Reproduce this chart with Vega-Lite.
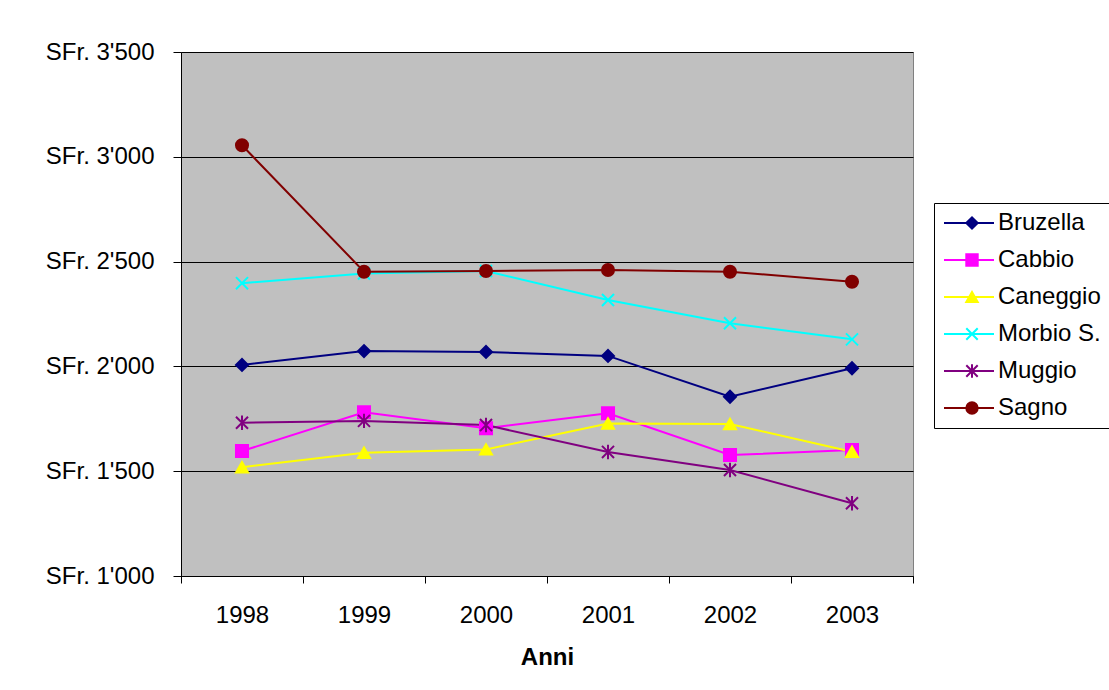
{
  "$schema": "https://vega.github.io/schema/vega-lite/v6.json",
  "width": 732,
  "height": 524,
  "autosize": {"type": "none"},
  "padding": {"left": 181, "top": 52, "right": 196, "bottom": 114},
  "background": "white",
  "config": {
    "font": "Liberation Sans",
    "view": {"fill": "#C0C0C0", "stroke": "#808080", "strokeWidth": 1}
  },
  "data": {
    "values": [
      {"Anno": "1998", "Comune": "Bruzella", "Valore": 2007},
      {"Anno": "1999", "Comune": "Bruzella", "Valore": 2073},
      {"Anno": "2000", "Comune": "Bruzella", "Valore": 2069},
      {"Anno": "2001", "Comune": "Bruzella", "Valore": 2050},
      {"Anno": "2002", "Comune": "Bruzella", "Valore": 1855},
      {"Anno": "2003", "Comune": "Bruzella", "Valore": 1991},
      {"Anno": "1998", "Comune": "Cabbio", "Valore": 1596},
      {"Anno": "1999", "Comune": "Cabbio", "Valore": 1781},
      {"Anno": "2000", "Comune": "Cabbio", "Valore": 1705},
      {"Anno": "2001", "Comune": "Cabbio", "Valore": 1776},
      {"Anno": "2002", "Comune": "Cabbio", "Valore": 1577},
      {"Anno": "2003", "Comune": "Cabbio", "Valore": 1601},
      {"Anno": "1998", "Comune": "Caneggio", "Valore": 1519},
      {"Anno": "1999", "Comune": "Caneggio", "Valore": 1588},
      {"Anno": "2000", "Comune": "Caneggio", "Valore": 1604},
      {"Anno": "2001", "Comune": "Caneggio", "Valore": 1728},
      {"Anno": "2002", "Comune": "Caneggio", "Valore": 1725},
      {"Anno": "2003", "Comune": "Caneggio", "Valore": 1593},
      {"Anno": "1998", "Comune": "Morbio S.", "Valore": 2397},
      {"Anno": "1999", "Comune": "Morbio S.", "Valore": 2443},
      {"Anno": "2000", "Comune": "Morbio S.", "Valore": 2455},
      {"Anno": "2001", "Comune": "Morbio S.", "Valore": 2317},
      {"Anno": "2002", "Comune": "Morbio S.", "Valore": 2206},
      {"Anno": "2003", "Comune": "Morbio S.", "Valore": 2129},
      {"Anno": "1998", "Comune": "Muggio", "Valore": 1731},
      {"Anno": "1999", "Comune": "Muggio", "Valore": 1740},
      {"Anno": "2000", "Comune": "Muggio", "Valore": 1720},
      {"Anno": "2001", "Comune": "Muggio", "Valore": 1592},
      {"Anno": "2002", "Comune": "Muggio", "Valore": 1506},
      {"Anno": "2003", "Comune": "Muggio", "Valore": 1347},
      {"Anno": "1998", "Comune": "Sagno", "Valore": 3055},
      {"Anno": "1999", "Comune": "Sagno", "Valore": 2452},
      {"Anno": "2000", "Comune": "Sagno", "Valore": 2455},
      {"Anno": "2001", "Comune": "Sagno", "Valore": 2460},
      {"Anno": "2002", "Comune": "Sagno", "Valore": 2452},
      {"Anno": "2003", "Comune": "Sagno", "Valore": 2404}
    ]
  },
  "encoding": {
    "x": {
      "field": "Anno",
      "type": "ordinal",
      "bandPosition": 0.5,
      "scale": {"type": "band", "paddingInner": 0, "paddingOuter": 0},
      "axis": {
        "title": "Anni",
        "labelAngle": 0,
        "tickBand": "extent",
        "tickSize": 7,
        "tickColor": "black",
        "domainColor": "black",
        "labelColor": "black",
        "labelFontSize": 24,
        "labelPadding": 20,
        "titleFontSize": 24,
        "titleFontWeight": "bold",
        "titleColor": "black",
        "titlePadding": 18,
        "grid": false
      }
    },
    "y": {
      "field": "Valore",
      "type": "quantitative",
      "scale": {"domain": [1000, 3500], "nice": false, "zero": false},
      "axis": {
        "title": null,
        "values": [1000, 1500, 2000, 2500, 3000, 3500],
        "labelExpr": "'SFr. ' + replace(format(datum.value, ','), ',', \"'\")",
        "grid": true,
        "gridColor": "black",
        "gridOpacity": 1,
        "gridWidth": 1,
        "tickSize": 8,
        "tickColor": "black",
        "domainColor": "black",
        "labelColor": "black",
        "labelFontSize": 24,
        "labelPadding": 19
      }
    }
  },
  "layer": [
    {
      "mark": {"type": "line", "strokeWidth": 2},
      "encoding": {
        "color": {
          "field": "Comune",
          "type": "nominal",
          "title": null,
          "scale": {
            "domain": ["Bruzella", "Cabbio", "Caneggio", "Morbio S.", "Muggio", "Sagno"],
            "range": ["#000080", "#FF00FF", "#FFFF00", "#00FFFF", "#800080", "#800000"]
          },
          "legend": {
            "orient": "none",
            "legendX": 753,
            "legendY": 151,
            "padding": 8,
            "zindex": 1,
            "strokeColor": "black",
            "labelFontSize": 24,
            "labelColor": "black",
            "labelLimit": 300,
            "symbolType": "M-2.5,0H2.5",
            "symbolSize": 400,
            "symbolOffset": 15,
            "symbolStrokeWidth": 2,
            "symbolOpacity": 1,
            "labelOffset": 17,
            "rowPadding": 13
          }
        }
      }
    },
    {
      "mark": {"type": "point", "filled": true, "size": 145, "strokeWidth": 2, "opacity": 1},
      "encoding": {
        "shape": {
          "field": "Comune",
          "type": "nominal",
          "title": null,
          "scale": {
            "range": ["diamond", "square", "triangle-up", "M-1,-1L1,1M-1,1L1,-1", "M-1,-1L1,1M-1,1L1,-1M0,-1.2L0,1.2", "circle"]
          },
          "legend": {
            "orient": "none",
            "legendX": 753,
            "legendY": 151,
            "padding": 8,
            "zindex": 2,
            "labelFontSize": 24,
            "labelExpr": "''",
            "labelLimit": 300,
            "symbolSize": 130,
            "symbolOffset": 18,
            "symbolStrokeWidth": 2,
            "symbolOpacity": 1,
            "labelOffset": 17,
            "rowPadding": 13
          }
        },
        "fill": {
          "field": "Comune",
          "type": "nominal",
          "title": null,
          "scale": {
            "range": ["#000080", "#FF00FF", "#FFFF00", "#00FFFF", "#800080", "#800000"]
          }
        },
        "stroke": {
          "field": "Comune",
          "type": "nominal",
          "title": null,
          "scale": {
            "range": ["#000080", "#FF00FF", "#FFFF00", "#00FFFF", "#800080", "#800000"]
          }
        }
      }
    }
  ]
}
